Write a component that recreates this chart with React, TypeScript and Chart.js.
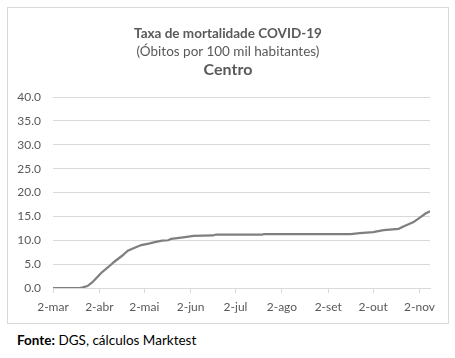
import React, { useEffect, useRef } from "react";
import { Chart, registerables } from "chart.js";

Chart.register(...registerables);

// Days since 2-mar (day 0) and mortality rate values
const days = [0, 18, 20, 23, 26, 30, 32, 37, 41, 46, 50, 55, 59, 64, 68, 73, 77, 79, 87, 94, 107, 109, 140, 141, 199, 205, 214, 221, 231, 235, 241, 245, 249, 252];
const values = [0, 0, 0.15, 0.4, 1.1, 2.4, 3.1, 4.4, 5.5, 6.7, 7.8, 8.5, 9.0, 9.3, 9.6, 9.9, 10.0, 10.3, 10.6, 10.9, 11.0, 11.2, 11.2, 11.3, 11.3, 11.5, 11.7, 12.1, 12.4, 13.0, 13.8, 14.7, 15.6, 16.1];

const tickDays = [0, 31, 61, 92, 122, 153, 184, 214, 245];
const tickLabels = ["2-mar", "2-abr", "2-mai", "2-jun", "2-jul", "2-ago", "2-set", "2-out", "2-nov"];

const titleLine1 = "Taxa de mortalidade COVID-19";
const titleLine2 = "(Óbitos por 100 mil habitantes)";
const titleLine3 = "Centro";

const FONT = "Lato, 'Liberation Sans', sans-serif";

export default function App() {
  const ref = useRef<HTMLCanvasElement>(null);

  useEffect(() => {
    const canvas = ref.current;
    if (!canvas) return;
    const chart = new Chart(canvas, {
      type: "line",
      data: {
        datasets: [
          {
            data: days.map((d, i) => ({ x: d, y: values[i] })),
            borderColor: "#7f7f7f",
            borderWidth: 2.25,
            pointRadius: 0,
            tension: 0,
            fill: false,
          },
        ],
      },
      options: {
        animation: false,
        responsive: false,
        maintainAspectRatio: false,
        layout: { padding: { top: 89, right: 18, bottom: 0, left: 0 } },
        plugins: { legend: { display: false }, tooltip: { enabled: false }, title: { display: false } },
        scales: {
          x: {
            type: "linear",
            min: 0,
            max: 252,
            afterBuildTicks: (scale: any) => {
              scale.ticks = tickDays.map((v) => ({ value: v }));
            },
            afterFit: (scale: any) => {
              scale.height = 35;
            },
            grid: {
              drawOnChartArea: false,
              drawTicks: true,
              tickLength: 5,
              color: "#d9d9d9",
            },
            border: { display: true, color: "#d9d9d9" },
            ticks: {
              autoSkip: false,
              maxRotation: 0,
              padding: 7,
              color: "#595959",
              font: { family: FONT, size: 12 },
              callback: (value: any) => {
                const i = tickDays.indexOf(Number(value));
                return i >= 0 ? tickLabels[i] : "";
              },
            },
          },
          y: {
            min: 0,
            max: 40,
            afterFit: (scale: any) => {
              scale.width = 45;
            },
            grid: { color: "#d9d9d9", drawTicks: false },
            border: { display: false },
            ticks: {
              stepSize: 5,
              padding: 12,
              color: "#595959",
              font: { family: FONT, size: 12 },
              callback: (value: any) => Number(value).toFixed(1),
            },
          },
        },
      },
    });
    return () => chart.destroy();
  }, []);

  return (
    <div style={{ position: "absolute", left: 0, top: 0, width: 455, height: 358, background: "#fff", fontFamily: FONT }}>
      <div
        style={{
          position: "absolute",
          left: 7,
          top: 7,
          width: 442,
          height: 317,
          border: "1px solid #d9d9d9",
          boxSizing: "border-box",
        }}
      >
        <canvas ref={ref} width={440} height={315} style={{ position: "absolute", left: 0, top: 0, width: 440, height: 315 }} />
        <div style={{ position: "absolute", left: 0, width: 440, top: 17, textAlign: "center", color: "#595959", fontWeight: "bold", fontSize: 13.5, lineHeight: "16px" }}>
          {titleLine1}
        </div>
        <div style={{ position: "absolute", left: 0, width: 440, top: 35, textAlign: "center", color: "#595959", fontSize: 13.5, lineHeight: "16px" }}>
          {titleLine2}
        </div>
        <div style={{ position: "absolute", left: 0, width: 440, top: 52, textAlign: "center", color: "#595959", fontWeight: "bold", fontSize: 16, lineHeight: "18px" }}>
          {titleLine3}
        </div>
      </div>
      <div style={{ position: "absolute", left: 17, top: 332, color: "#000", fontSize: 13.5, lineHeight: "16px", whiteSpace: "nowrap" }}>
        <b>Fonte:</b> DGS, cálculos Marktest
      </div>
    </div>
  );
}
